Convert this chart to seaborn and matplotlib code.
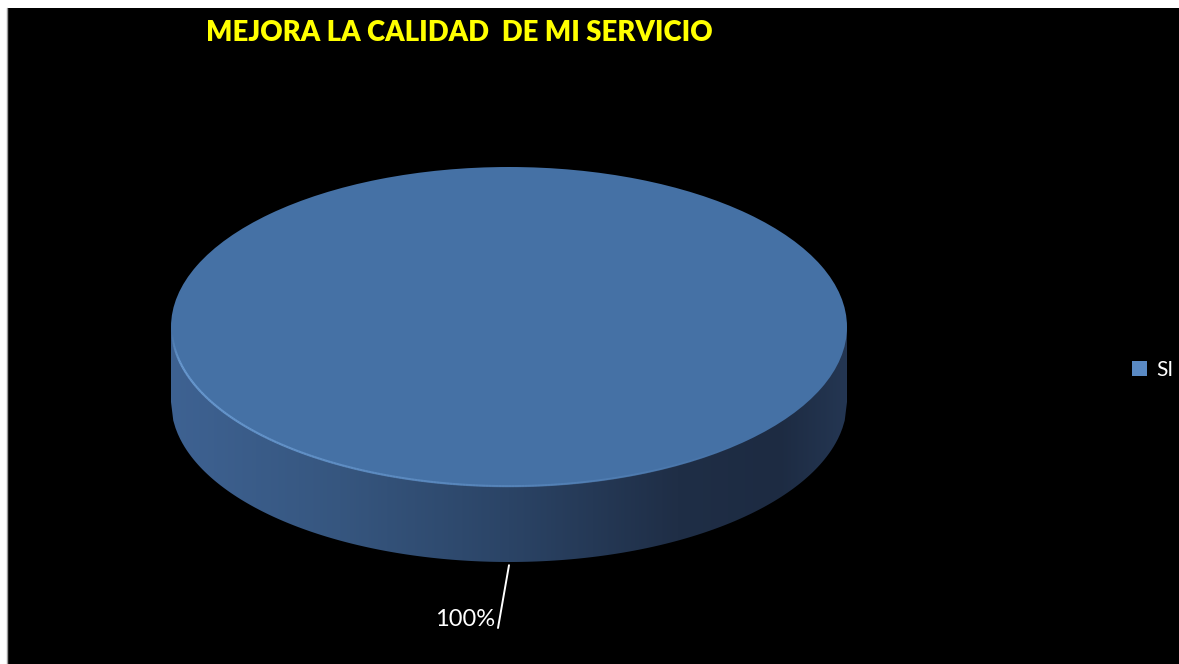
import numpy as np
import matplotlib
matplotlib.use("Agg")
import matplotlib.pyplot as plt
import seaborn as sns
from matplotlib.patches import Rectangle, Polygon
from matplotlib.colors import LinearSegmentedColormap, to_rgba
from matplotlib.collections import LineCollection

# ---- data ----
categories = ["SI"]
values = [100]
title_text = "MEJORA LA CALIDAD  DE MI SERVICIO"

sns.set_theme(style="dark")
plt.rcParams["font.family"] = ["Lato", "DejaVu Sans"]

W, H = 1179, 664
fig = plt.figure(figsize=(W / 100, H / 100), dpi=100, facecolor="black")

# white border (top and left) around the black chart area
fig.patches.append(Rectangle((0, (H - 8) / H), 1, 8 / H, transform=fig.transFigure,
                             facecolor="white", edgecolor="none", zorder=0))
fig.patches.append(Rectangle((0, 0), 7 / W, 1, transform=fig.transFigure,
                             facecolor="white", edgecolor="none", zorder=0))
fig.add_artist(plt.Line2D([7 / W, 7 / W], [0, (H - 8) / H], transform=fig.transFigure,
                          color="#9a9a9a", lw=1))

# pie geometry (pixels)
cx, cy = 509, 327          # top face center
rx, ry = 338, 160          # semi-axes
depth_px = 75
d = depth_px / ry

left = (cx - rx) / W
top = cy - ry
bottom_px = cy + ry + depth_px
ax = fig.add_axes([left, (H - bottom_px) / H, 2 * rx / W, (bottom_px - top) / H])
ax.set_zorder(5)
ax.patch.set_alpha(0)

top_color = "#4571a5"

# side (bottom cap + gradient band)
side_wedges, _ = ax.pie(values, colors=["#2c4566"], radius=1, center=(0, -d),
                        startangle=90, normalize=True, frame=False,
                        wedgeprops=dict(linewidth=0))

xs = np.linspace(-1, 1, 300)
lower = -d - np.sqrt(np.clip(1 - xs ** 2, 0, 1))
poly_pts = np.vstack([np.column_stack([xs, lower]),
                      np.array([[1, 0], [-1, 0]])])
side_poly = Polygon(poly_pts, closed=True, facecolor="none", edgecolor="none",
                    transform=ax.transData)
ax.add_patch(side_poly)
side_cmap = LinearSegmentedColormap.from_list(
    "side", [(0.0, "#3e6292"), (0.25, "#36567f"), (0.5, "#2b4466"),
             (0.75, "#1f2e46"), (0.9, "#1d2b42"), (1.0, "#243652")])
grad = np.linspace(0, 1, 256).reshape(1, -1)
im = ax.imshow(grad, cmap=side_cmap, extent=(-1, 1, -1 - d, 0), aspect="auto",
               zorder=1, interpolation="bilinear")
im.set_clip_path(side_poly)
for w in side_wedges:
    w.set_visible(False)

# top face
top_wedges, _ = ax.pie(values, colors=[top_color], radius=1, center=(0, 0),
                       startangle=90, normalize=True, frame=False,
                       wedgeprops=dict(linewidth=0))
for w in top_wedges:
    w.set_zorder(3)

# light rim along the front-left edge, fading to the right
th = np.linspace(np.pi * 1.01, np.pi * 1.75, 240)
px, py = np.cos(th) * 0.998, np.sin(th) * 0.995
segs = np.stack([np.column_stack([px[:-1], py[:-1]]),
                 np.column_stack([px[1:], py[1:]])], axis=1)
fade = np.clip(1 - (np.linspace(0, 1, len(segs)) ** 1.5), 0, 1)
fade *= np.clip(np.linspace(0, 1, len(segs)) * 12, 0, 1)
rim_rgba = np.array([to_rgba("#6e9fd6", a * 0.9) for a in fade])
ax.add_collection(LineCollection(segs, colors=rim_rgba, linewidths=1.6, zorder=4,
                                 capstyle="butt"))

ax.set_xlim(-1, 1)
ax.set_ylim(-1 - d, 1)
ax.set_aspect("auto")
ax.axis("off")

# percentage label with leader line
pct = values[0] / sum(values) * 100
x_end = (498 - cx) / rx
y_end = 1 - (628 - top) / ry
ax.plot([0, x_end], [-1 - d - 0.02, y_end], color="white", lw=1.4, clip_on=False, zorder=5)
fig.text(495 / W, (H - 620) / H, f"{pct:.0f}%", color="white", fontsize=17,
         ha="right", va="center")

# title
fig.text(459 / W, (H - 33) / H, title_text, color="#ffff00", fontsize=19.8,
         fontweight="heavy", ha="center", va="center")

# legend
leg = fig.legend(top_wedges, categories, loc="center left",
                 bbox_to_anchor=(1113 / W, (H - 370) / H), frameon=False,
                 labelcolor="white", fontsize=15, handlelength=0.75, handleheight=0.75,
                 handletextpad=0.45)
for h in leg.legend_handles:
    h.set_facecolor("#5a8ac4")

fig.savefig("out.png", dpi=100, facecolor=fig.get_facecolor())
